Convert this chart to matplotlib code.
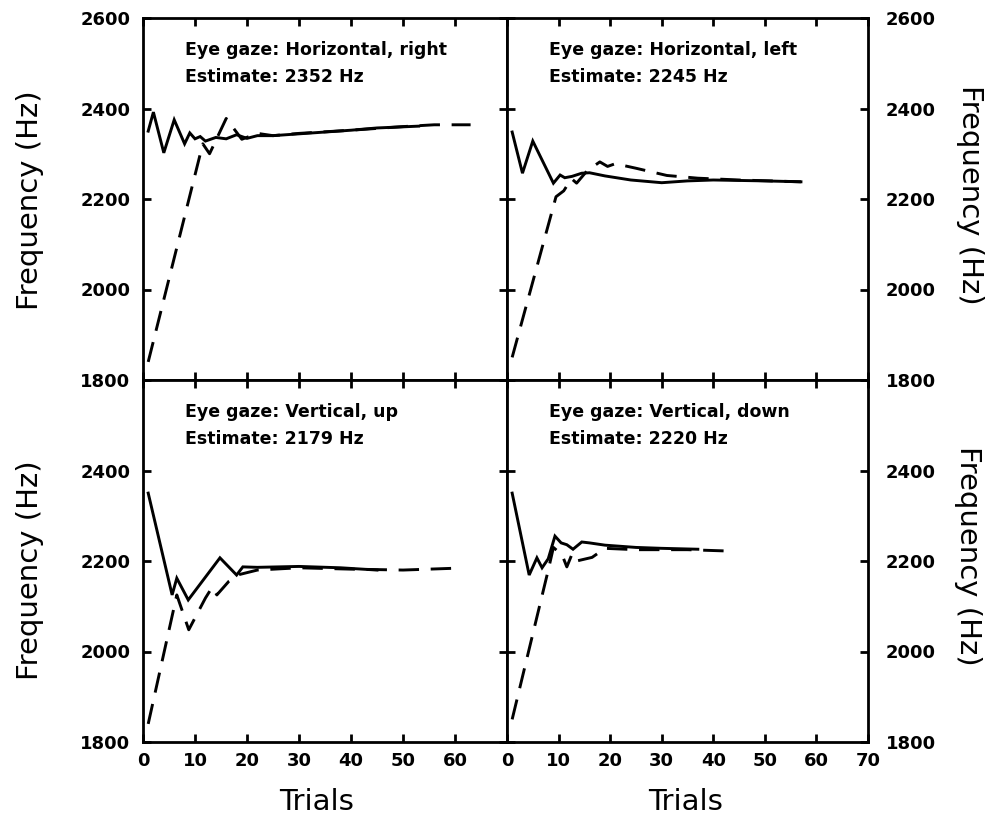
import matplotlib.pyplot as plt

# trial numbers and frequency (Hz) for each panel, solid track and dashed track
hr_solid_t = [1, 2, 4, 6, 8, 9, 10, 11, 12, 14, 16, 18, 20, 22, 25, 30, 35, 40, 45, 53]
hr_solid_f = [2350, 2392, 2302, 2375, 2322, 2346, 2333, 2338, 2328, 2336, 2333, 2342, 2334, 2340, 2340, 2344, 2348, 2352, 2357, 2361]
hr_dash_t = [1, 11.5, 12.8, 16, 19, 22, 25, 30, 40, 50, 56, 63]
hr_dash_f = [1840, 2322, 2300, 2378, 2332, 2345, 2340, 2345, 2352, 2360, 2364, 2364]

hl_solid_t = [1, 3, 5, 9, 10.3, 11.2, 12.6, 14.5, 16, 19, 24, 30, 35, 40, 50, 57]
hl_solid_f = [2348, 2257, 2328, 2235, 2253, 2247, 2250, 2257, 2258, 2251, 2242, 2236, 2240, 2242, 2240, 2238]
hl_dash_t = [1, 9.5, 11, 12.5, 13.5, 15.5, 18, 19.5, 21, 25, 31, 37, 45, 57]
hl_dash_f = [1850, 2205, 2218, 2245, 2235, 2262, 2282, 2272, 2278, 2268, 2252, 2246, 2242, 2238]

vu_solid_t = [1, 5.6, 6.5, 8.7, 14.8, 18, 19.2, 22, 30, 38, 45]
vu_solid_f = [2350, 2125, 2162, 2114, 2207, 2169, 2187, 2186, 2188, 2185, 2180]
vu_dash_t = [1, 6.5, 8.8, 12, 13.3, 14.2, 16.5, 18.5, 22, 30, 40, 50, 60]
vu_dash_f = [1840, 2125, 2048, 2118, 2142, 2125, 2155, 2170, 2180, 2185, 2182, 2180, 2184]

vd_solid_t = [1, 4.3, 5.8, 6.8, 8, 9.3, 10.5, 11.6, 12.8, 14.5, 16, 19, 25, 30, 37]
vd_solid_f = [2350, 2169, 2207, 2185, 2205, 2255, 2240, 2236, 2226, 2242, 2240, 2235, 2230, 2228, 2226]
vd_dash_t = [1, 8, 9, 10.7, 11.6, 12.6, 13.5, 16.5, 19, 25, 35, 43]
vd_dash_f = [1850, 2180, 2230, 2213, 2187, 2215, 2200, 2208, 2228, 2225, 2225, 2222]

gaze_labels = ["Eye gaze: Horizontal, right", "Eye gaze: Horizontal, left",
               "Eye gaze: Vertical, up", "Eye gaze: Vertical, down"]
estimate_labels = ["Estimate: 2352 Hz", "Estimate: 2245 Hz",
                   "Estimate: 2179 Hz", "Estimate: 2220 Hz"]

freq_ticks = [1800, 2000, 2200, 2400, 2600]
trial_ticks = [0, 10, 20, 30, 40, 50, 60, 70]

panels = [
    (hr_solid_t, hr_solid_f, hr_dash_t, hr_dash_f),
    (hl_solid_t, hl_solid_f, hl_dash_t, hl_dash_f),
    (vu_solid_t, vu_solid_f, vu_dash_t, vu_dash_f),
    (vd_solid_t, vd_solid_f, vd_dash_t, vd_dash_f),
]

fig = plt.figure(figsize=(10.06, 8.19), dpi=100)
L, W = 143 / 1006, 364 / 1006
R, WR = 507 / 1006, 361 / 1006
H = 362 / 819
boxes = [
    [L, 1 - 380 / 819, W, H],
    [R, 1 - 380 / 819, WR, H],
    [L, 1 - 742 / 819, W, H],
    [R, 1 - 742 / 819, WR, H],
]

tick_font = dict(fontsize=13, fontweight='bold')

for i, box in enumerate(boxes):
    ax = fig.add_axes(box)
    st, sf, dt, df = panels[i]
    ax.plot(st, sf, color='black', linewidth=2.1, solid_joinstyle='miter')
    ax.plot(dt, df, color='black', linewidth=2.1, dashes=(7, 4))
    ax.set_xlim(0, 70)
    ax.set_ylim(1800, 2600)
    for sp in ax.spines.values():
        sp.set_linewidth(2)
    ax.tick_params(direction='in', length=6, width=2, top=True, right=True)

    ax.set_xticks(trial_ticks)
    top_row = i < 2
    left_col = i % 2 == 0
    if top_row:
        ax.set_xticklabels([])
    else:
        xl = [str(t) for t in trial_ticks]
        if left_col:
            xl[-1] = ''
        ax.set_xticklabels(xl, **tick_font)
        ax.tick_params(axis='x', pad=7)

    ax.set_yticks(freq_ticks)
    yl = [str(f) for f in freq_ticks]
    if not top_row:
        yl[-1] = ''
    ax.set_yticklabels(yl, **tick_font)
    if left_col:
        ax.tick_params(axis='y', pad=9)
    else:
        ax.yaxis.tick_right()
        ax.tick_params(axis='y', direction='in', left=True, right=True, pad=13,
                       labelleft=False, labelright=True)

    ax.text(0.115, 0.912, gaze_labels[i], transform=ax.transAxes,
            fontsize=12.5, fontweight='bold', va='center', ha='left')
    ax.text(0.115, 0.838, estimate_labels[i], transform=ax.transAxes,
            fontsize=12.5, fontweight='bold', va='center', ha='left')

# axis titles
fig.text(30 / 1006, 1 - 200 / 819, "Frequency (Hz)", rotation=90,
         fontsize=21, ha='center', va='center')
fig.text(30 / 1006, 1 - 570 / 819, "Frequency (Hz)", rotation=90,
         fontsize=21, ha='center', va='center')
fig.text(970 / 1006, 1 - 195 / 819, "Frequency (Hz)", rotation=270,
         fontsize=21, ha='center', va='center')
fig.text(968 / 1006, 1 - 556 / 819, "Frequency (Hz)", rotation=270,
         fontsize=21, ha='center', va='center')
fig.text(317 / 1006, 1 - 802 / 819, "Trials", fontsize=21, ha='center', va='center')
fig.text(686 / 1006, 1 - 802 / 819, "Trials", fontsize=21, ha='center', va='center')

fig.savefig('out.png', dpi=100)
